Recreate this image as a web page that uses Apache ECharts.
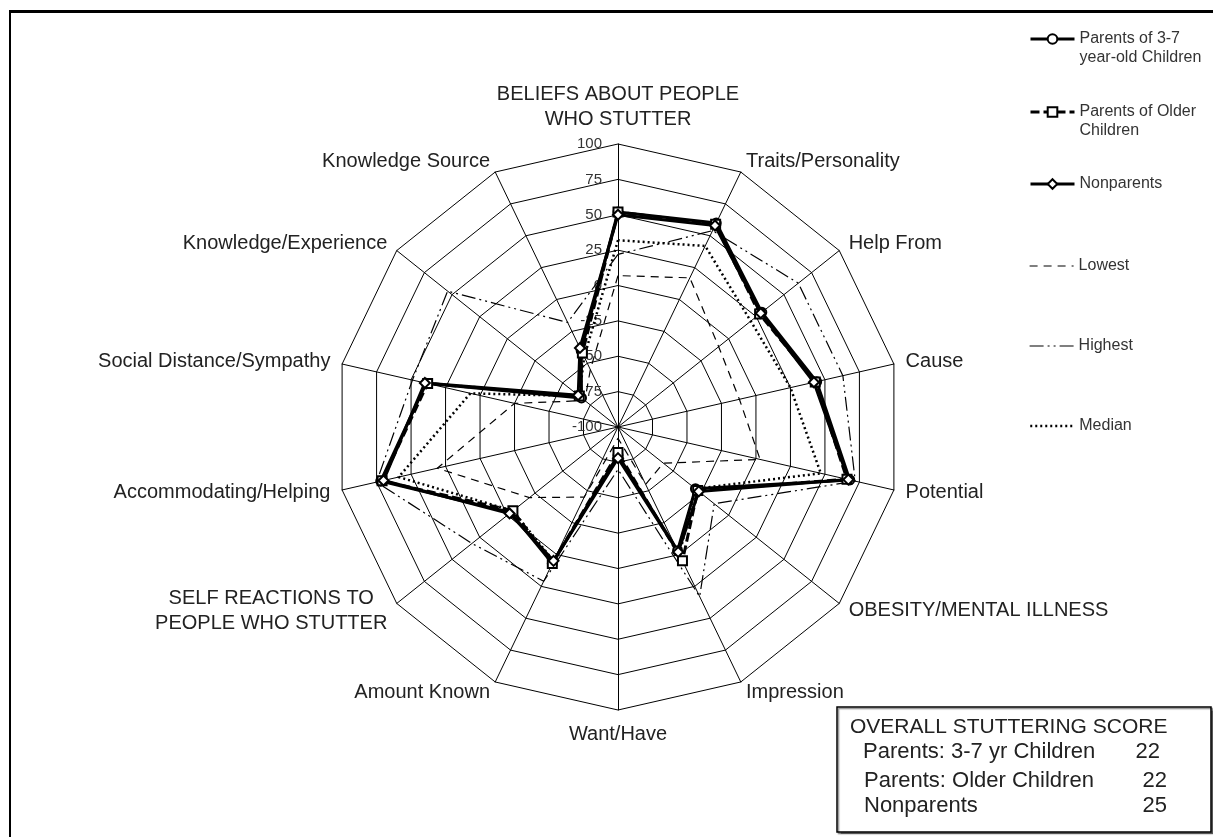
<!DOCTYPE html>
<html>
<head>
<meta charset="utf-8">
<script src="https://cdn.jsdelivr.net/npm/echarts@6/dist/echarts.min.js"></script>
<style>
html,body{margin:0;padding:0;background:#fff;}
#chart{width:1213px;height:837px;}
</style>
</head>
<body>
<div id="chart"></div>
<script>
// ---------------- DATA ----------------
const axisNames = [
  'BELIEFS ABOUT PEOPLE\nWHO STUTTER',
  'Traits/Personality',
  'Help From',
  'Cause',
  'Potential',
  'OBESITY/MENTAL ILLNESS',
  'Impression',
  'Want/Have',
  'Amount Known',
  'SELF REACTIONS TO\nPEOPLE WHO STUTTER',
  'Accommodating/Helping',
  'Social Distance/Sympathy',
  'Knowledge/Experience',
  'Knowledge Source'
];
const axisMin = -100;
const axisMax = 100;
const axisSplits = 8;

const seriesNames = [
  'Parents of 3-7\nyear-old Children',
  'Parents of Older\nChildren',
  'Nonparents',
  'Lowest',
  'Highest',
  'Median'
];

const parents37    = [52, 60, 30, 44, 68, -30, -3, -80, 7, -3, 72, 39, -67, -40];
const parentsOlder = [52, 59, 28, 43, 66, -28,  5, -82, 7, -5, 71, 38, -65, -42];
const nonparents   = [50, 58, 29, 42, 67, -27, -2, -78, 5, -2, 70, 40, -64, -38];
const lowest       = [7, 17, -9, -12, 3, -59, -55, -92, -45, -20, 31, -25, -70, -55];
const highest      = [22, 54, 63, 63, 72, -13, 33, -70, 21, 32, 75, 49, 54, -18];
const median       = [32, 42, 20, 25, 47, -30, 0, -80, 5, -5, 59, 7, -65, -45];

const scoreTitle  = 'OVERALL STUTTERING SCORE';
const scoreGroups = ['Parents: 3-7 yr Children', 'Parents: Older Children', 'Nonparents'];
const scoreValues = [22, 22, 25];

// ---------------- STYLE / LAYOUT ----------------
const FONT = 'Liberation Sans, Arial, sans-serif';
const allData = [parents37, parentsOlder, nonparents, lowest, highest, median];
const symbols = ['emptyCircle', 'emptyRect', 'emptyDiamond', 'none', 'none', 'none'];
const lineStyles = [
  {width: 3,   type: 'solid'},
  {width: 3,   type: [9, 4]},
  {width: 3,   type: 'solid'},
  {width: 1.2, type: [8, 6]},
  {width: 1.2, type: [14, 4, 2, 4, 2, 4]},
  {width: 2.5, type: [2, 3]}
];
const legendIconY = [39, 112, 184, 266, 346, 426];
const legendLineH = 19;

// ECharts radar runs counter-clockwise; reorder so axes run clockwise from the top
const n = axisNames.length;
const order = [0];
for (let k = n - 1; k >= 1; k--) order.push(k);
const reorder = arr => order.map(i => arr[i]);

const indicators = order.map((i, k) => {
  const ind = {name: axisNames[i], min: axisMin, max: axisMax};
  if (k === 0) {
    ind.axisLabel = {show: true, color: '#333', fontSize: 15, fontFamily: FONT, margin: 16};
  }
  return ind;
});

const chart = echarts.init(document.getElementById('chart'), null, {renderer: 'canvas'});

const proxySeries = seriesNames.map((name, k) => ({
  type: 'line',
  name: name,
  data: [],
  symbol: symbols[k] === 'none' ? 'circle' : symbols[k],
  lineStyle: {color: '#000', width: lineStyles[k].width, type: lineStyles[k].type},
  itemStyle: {color: '#000'}
}));

const radarSeries = seriesNames.map((name, k) => ({
  type: 'radar',
  name: name,
  z: k < 3 ? 5 : 3,
  symbol: symbols[k],
  symbolSize: k === 2 ? 10 : 9,
  lineStyle: {color: '#000', width: lineStyles[k].width, type: lineStyles[k].type},
  itemStyle: {color: '#000', borderColor: '#000', borderWidth: 1.5},
  emphasis: {disabled: true},
  data: [{name: name, value: reorder(allData[k])}]
}));

const legends = seriesNames.map((name, k) => {
  const twoLine = name.indexOf('\n') >= 0;
  const boxH = twoLine ? legendLineH * 3 : legendLineH;
  return {
    data: [name],
    orient: 'vertical',
    left: 1029,
    top: legendIconY[k] - boxH / 2,
    padding: 0,
    itemWidth: 44,
    itemHeight: 12,
    itemGap: 0,
    selectedMode: false,
    formatter: function (nm) { return nm.indexOf('\n') >= 0 ? '\n' + nm : nm; },
    lineStyle: {color: '#000', width: lineStyles[k].width, type: lineStyles[k].type},
    itemStyle: k < 3 ? {color: '#000', borderColor: '#000'} : {color: 'rgba(0,0,0,0)', borderWidth: 0, opacity: 0},
    textStyle: {color: '#333', fontSize: 16, fontFamily: FONT, lineHeight: legendLineH}
  };
});

const graphics = [
  {type: 'rect', silent: true, shape: {x: 10, y: 11, width: 1300, height: 900},
   style: {fill: 'none', stroke: '#000', lineWidth: 2}},
  {type: 'line', silent: true, shape: {x1: 10, y1: 11.5, x2: 1213, y2: 11.5},
   style: {stroke: '#000', lineWidth: 3}},
  {type: 'rect', silent: true, shape: {x: 837, y: 707, width: 374, height: 125},
   style: {fill: '#fff', stroke: '#000', lineWidth: 1.5, shadowColor: 'rgba(0,0,0,0.45)', shadowOffsetX: 1.5, shadowOffsetY: 1.5, shadowBlur: 1}},
  {type: 'text', silent: true, x: 850, y: 727,
   style: {text: scoreTitle, fontSize: 21, fontFamily: FONT, fill: '#222', verticalAlign: 'middle'}}
];
const rowY = [752, 781, 806];
const rowX = [863, 864, 864];
const valX = [1160, 1167, 1167];
scoreGroups.forEach((g, k) => {
  graphics.push({type: 'text', silent: true, x: rowX[k], y: rowY[k],
    style: {text: g, fontSize: 22, fontFamily: FONT, fill: '#222', verticalAlign: 'middle'}});
  graphics.push({type: 'text', silent: true, x: valX[k], y: rowY[k],
    style: {text: String(scoreValues[k]), fontSize: 22, fontFamily: FONT, fill: '#222', align: 'right', verticalAlign: 'middle'}});
});

const option = {
  backgroundColor: '#fff',
  animation: false,
  textStyle: {fontFamily: FONT},
  grid: {show: false, left: 0, top: 0, width: 1, height: 1},
  xAxis: {show: false, type: 'category', data: []},
  yAxis: {show: false, type: 'value'},
  legend: legends,
  radar: {
    center: [618, 427],
    radius: 283,
    startAngle: 90,
    shape: 'polygon',
    splitNumber: axisSplits,
    nameGap: 12,
    axisName: {
      color: '#222', fontSize: 20, fontFamily: FONT, lineHeight: 25,
      formatter: function (name) {
        return name.indexOf('\n') >= 0
          ? name.split('\n').map(s => '{c|' + s + '}').join('\n')
          : name;
      },
      rich: {c: {align: 'center', color: '#222', fontSize: 20, fontFamily: FONT, lineHeight: 25}}
    },
    axisLine: {show: true, lineStyle: {color: '#000', width: 1}},
    axisTick: {show: false},
    axisLabel: {show: false},
    splitLine: {show: true, lineStyle: {color: '#000', width: 1}},
    splitArea: {show: false},
    indicator: indicators
  },
  graphic: graphics,
  series: proxySeries.concat(radarSeries)
};
chart.setOption(option);
</script>
</body>
</html>
